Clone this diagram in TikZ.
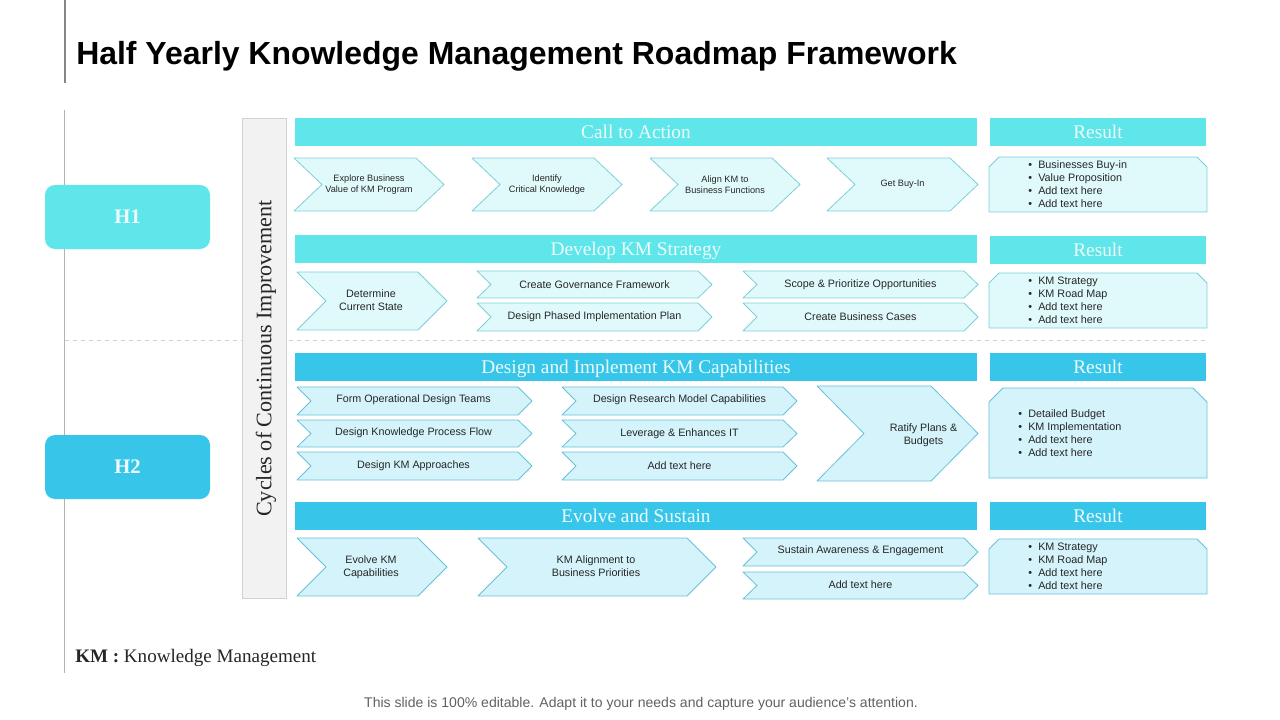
\documentclass[tikz,border=0pt]{standalone}
\usepackage{fontspec}
\setmainfont{Liberation Sans}
\newfontfamily\serifface{Liberation Serif}
\definecolor{teal1}{HTML}{5EE6EA}
\definecolor{blue1}{HTML}{37C6EA}
\definecolor{lightA}{HTML}{E0FAFB}
\definecolor{lightB}{HTML}{D5F3FB}
\definecolor{edgeA}{HTML}{7CCFD8}
\definecolor{edgeB}{HTML}{66C2D8}
\definecolor{txt}{HTML}{262626}
\tikzset{
  x=0.75pt,y=-0.75pt,
  shapeA/.style={fill=lightA,draw=edgeA,line width=0.6pt,line join=round},
  shapeB/.style={fill=lightB,draw=edgeB,line width=0.6pt,line join=round},
  chevtext/.style={font=\fontsize{8.05}{9.75}\selectfont,text=txt,align=center,inner sep=0pt},
  restext/.style={font=\fontsize{8.1}{9.75}\selectfont,text=txt,align=left,anchor=west,inner sep=0pt},
  header/.style={font=\serifface\fontsize{14.5}{16}\selectfont,text=white!88!teal1,inner sep=0pt,text height=10pt,text depth=0pt},
  hbox/.style={rounded corners=7.5pt,font=\serifface\bfseries\fontsize{15.5}{16}\selectfont,text=white!90!teal1,inner sep=0pt}
}
% name, x1, y1, x2, y2, depth, style, text shift dx,dy, text
\newcommand\chev[9]{%
  \draw[#7] (#2,#3) -- ({#4-#6},#3) -- (#4,{(#3+#5)/2}) -- ({#4-#6},#5) -- (#2,#5) -- ({#2+#6},{(#3+#5)/2}) -- cycle;
  \node[chevtext,shift={(#8)}] (#1) at ({(#2+#4)/2},{(#3+#5)/2}) {#9};}
% name, x1, y1, x2, y2, snip, style, text x, text
\newcommand\resbox[9]{%
  \draw[#7] (#2,{#3+#6}) -- ({#2+#6},#3) -- ({#4-#6},#3) -- (#4,{#3+#6}) -- (#4,#5) -- (#2,#5) -- cycle;
  \node[restext] (#1) at (#8,{(#3+#5)/2}) {#9};}
% name, x1, y1, x2, y2, colour, text
\newcommand\headbar[7]{%
  \fill[#6] (#2,#3) rectangle (#4,#5);
  \node[header] (#1) at ({(#2+#4)/2},{(#3+#5)/2}) {#7};}
\newcommand\bul[1]{\makebox[7.5pt][l]{\textbullet}#1}
\newcommand\smt{\fontsize{6.9}{8.6}\selectfont}
\begin{document}
\begin{tikzpicture}
\useasboundingbox (0,0) rectangle (1280,720);
% guide lines
\draw[color=black!48,line width=1.9pt] (65,0) -- (65,83);
\draw[color=black!30,line width=0.75pt] (64.5,110) -- (64.5,673);
\draw[color=black!18,dashed,line width=0.6pt] (65,340.5) -- (1207,340.5);
% title
\node[anchor=west,inner sep=0pt,font=\bfseries\fontsize{23.96}{26}\selectfont] (title) at (76,56) {Half Yearly Knowledge Management Roadmap Framework};
% H boxes
\node[hbox,fill=teal1,minimum width=123.75pt,minimum height=48pt] (h1) at (127.5,217) {H1};
\node[hbox,fill=blue1,minimum width=123.75pt,minimum height=48pt] (h2) at (127.5,467) {H2};
% side panel
\draw[fill=black!5,draw=black!18,line width=0.5pt] (242,118) rectangle (286,598);
\node[rotate=90,inner sep=0pt,text=txt,font=\serifface\fontsize{16.6}{18}\selectfont] (cycles) at (266,358.5) {Cycles of Continuous Improvement};
% headers
\headbar{hA}{295}{118}{977}{146}{teal1}{Call to Action}
\headbar{rA}{990}{118}{1206}{146}{teal1}{Result}
\headbar{hB}{295}{235}{977}{263}{teal1}{Develop KM Strategy}
\headbar{rB}{990}{236}{1206}{264}{teal1}{Result}
\headbar{hC}{295}{353}{977}{381}{blue1}{Design and Implement KM Capabilities}
\headbar{rC}{990}{353}{1206}{381}{blue1}{Result}
\headbar{hD}{295}{502}{977}{530}{blue1}{Evolve and Sustain}
\headbar{rD}{990}{502}{1206}{530}{blue1}{Result}
% row 1
\chev{a1}{294}{158}{444}{211}{28}{shapeA}{0,0.5}{\smt Explore Business\\[-1.5pt]\smt Value of KM Program}
\chev{a2}{472}{158}{622}{211}{28}{shapeA}{0,0.5}{\smt Identify\\[-1.5pt]\smt Critical Knowledge}
\chev{a3}{650}{158}{800}{211}{28}{shapeA}{0,0.5}{\smt Align KM to\\[-1.5pt]\smt Business Functions}
\chev{a4}{827}{158}{978}{211}{28}{shapeA}{0,0}{\smt Get Buy-In}
\resbox{ra}{989}{157}{1207}{212}{10}{shapeA}{1028}{\bul{Businesses Buy-in}\\\bul{Value Proposition}\\\bul{Add text here}\\\bul{Add text here}}
% row 2
\chev{b1}{297}{272}{447}{330}{29}{shapeA}{-1,-0.5}{Determine\\Current State}
\chev{b2}{477}{271}{712}{298}{14}{shapeA}{0,0}{Create Governance Framework}
\chev{b3}{477}{303}{712}{331}{14}{shapeA}{0,0}{Design Phased Implementation Plan}
\chev{b4}{743}{271}{978}{298}{14}{shapeA}{0,0}{Scope \& Prioritize Opportunities}
\chev{b5}{743}{303}{978}{331}{14}{shapeA}{0,0}{Create Business Cases}
\resbox{rb}{989}{273}{1207}{328}{10}{shapeA}{1028}{\bul{KM Strategy}\\\bul{KM Road Map}\\\bul{Add text here}\\\bul{Add text here}}
% row 3
\chev{c1}{297}{387}{532}{415}{14}{shapeB}{-1,-1}{Form Operational Design Teams}
\chev{c2}{297}{420}{532}{447}{14}{shapeB}{-1,-1}{Design Knowledge Process Flow}
\chev{c3}{297}{452}{532}{480}{14}{shapeB}{-1,0}{Design KM Approaches}
\chev{c4}{562}{387}{797}{415}{14}{shapeB}{0,-1}{Design Research Model Capabilities}
\chev{c5}{562}{420}{797}{447}{14}{shapeB}{0,0}{Leverage \& Enhances IT}
\chev{c6}{562}{452}{797}{480}{14}{shapeB}{0,0}{Add text here}
\chev{c7}{817}{386}{978}{481}{47}{shapeB}{26,1.5}{Ratify Plans \&\\Budgets}
\resbox{rc}{989}{388}{1207}{478}{14}{shapeB}{1018}{\bul{Detailed Budget}\\\bul{KM Implementation}\\\bul{Add text here}\\\bul{Add text here}}
% row 4
\chev{d1}{297}{538}{447}{596}{29}{shapeB}{-1,0.5}{Evolve KM\\Capabilities}
\chev{d2}{478}{538}{716}{596}{29}{shapeB}{-1,-1}{KM Alignment to\\Business Priorities}
\chev{d3}{743}{538}{978}{566}{14}{shapeB}{0,-1}{Sustain Awareness \& Engagement}
\chev{d4}{743}{572}{978}{599}{14}{shapeB}{0,-1}{Add text here}
\resbox{rd}{989}{539}{1207}{594}{10}{shapeB}{1028}{\bul{KM Strategy}\\\bul{KM Road Map}\\\bul{Add text here}\\\bul{Add text here}}
% footer
\node[anchor=west,inner sep=0pt,text=txt,font=\serifface\fontsize{14.3}{16}\selectfont] (km) at (75,658) {\textbf{KM :} Knowledge Management};
\node[inner sep=0pt,text=black!62,font=\fontsize{10.53}{12}\selectfont] (note) at (641,704) {This slide is 100\% editable. Adapt it to your needs and capture your audience's attention.};
\end{tikzpicture}
\end{document}
